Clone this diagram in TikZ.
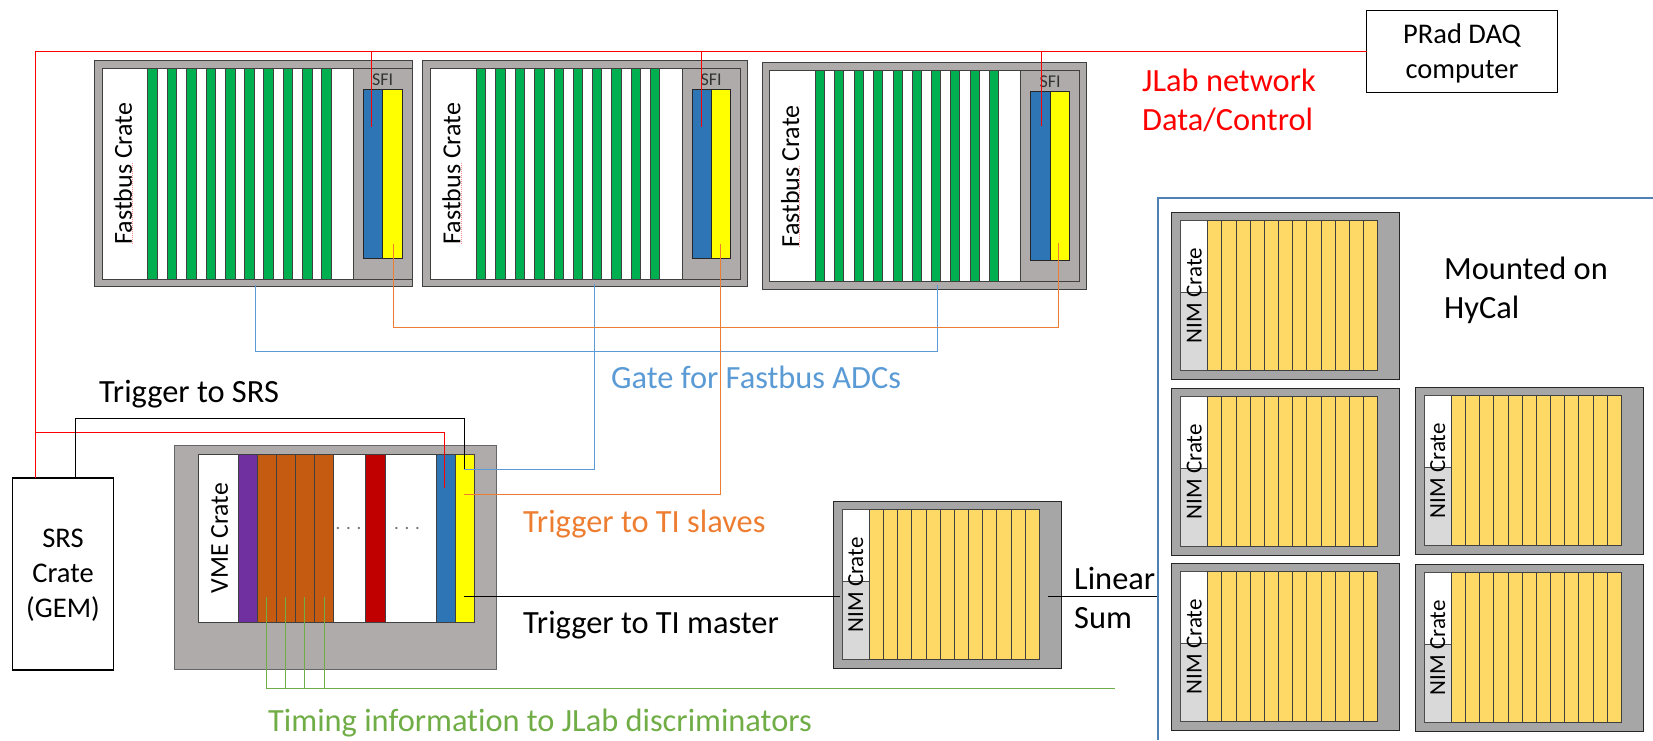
\documentclass[tikz,border=0pt]{standalone}
\usepackage{fontspec}
\setmainfont[Ligatures=NoCommon]{Carlito}
\usetikzlibrary {positioning}
\definecolor{crategray}{HTML}{AFABAB}
\definecolor{nimgray}{HTML}{A6A6A6}
\definecolor{nimlow}{HTML}{D9D9D9}
\definecolor{nimyellow}{HTML}{FFD966}
\definecolor{slotgreen}{HTML}{00B050}
\definecolor{modblue}{HTML}{2E75B6}
\definecolor{modyellow}{HTML}{FFFF00}
\definecolor{modorange}{HTML}{C55A11}
\definecolor{modpurple}{HTML}{7030A0}
\definecolor{modred}{HTML}{C00000}
\definecolor{gateblue}{HTML}{5B9BD5}
\definecolor{tiorange}{HTML}{ED7D31}
\definecolor{timegreen}{HTML}{70AD47}
\definecolor{framelink}{HTML}{4F81B5}
\definecolor{edgegray}{HTML}{404040}

\begin{document}
\begin{tikzpicture}[x=1pt,y=-1pt,on grid,
box/.style ={draw=edgegray,line width=1pt,inner sep=0,outer sep=0,minimum width=#1},
fbframe/.style ={box=#1,fill=crategray,minimum height=226.5pt},
fbinner/.style ={box=310pt,fill=white,minimum height=211pt},
fbslot/.style ={box=9.3pt,fill=slotgreen,minimum height=211pt},
sfipanel/.style ={box=58.5pt,fill=crategray,minimum height=211pt},
sfimod/.style ={box=19.3pt,draw=black!85,fill=#1,minimum height=169pt},
vmeslot/.style n args={2}{box=#1,on grid=false,fill=#2,minimum height=168pt},
nimframe/.style ={box=228pt,draw=black!85,fill=nimgray,minimum height=167pt},
nimslot/.style ={box=14.17pt,fill=nimyellow,minimum height=150pt},
plainbox/.style ={draw,line width=1.5pt,fill=white,inner sep=0,outer sep=0},
boxtext/.style ={inner sep=0,align=center,font=\fontsize{28.5}{35}\selectfont},
bigtext/.style ={inner sep=0,font=\fontsize{32.4}{39}\selectfont,align=left},
cratetext/.style ={inner sep=0,rotate=90,font=\fontsize{#1}{#1}\selectfont},
dottext/.style ={inner sep=0,text=black!55,font=\fontsize{19}{19}\selectfont},
spellmark/.style ={red!45,densely dotted,line width=1pt},
netline/.style ={red,line width=1pt},
gateline/.style ={gateblue,line width=1pt},
tiline/.style ={tiorange,line width=1pt},
timeline/.style ={timegreen,line width=1pt},
trigline/.style ={black,line width=1pt},
framelinkline/.style ={framelink,line width=1.6pt}]
\useasboundingbox (0,0) rectangle (1653,740);
% Fastbus crates
\foreach \fb/\fbw/\fbx/\fby/\inx/\iny in {fbA/318/253.5/173.3/257/173.7,fbB/324.6/585.2/173.3/585.5/173.7,fbC/324.3/924.6/176/924.3/176.3}{
\node[fbframe=\fbw pt] (\fb) at (\fbx,\fby) {};
\node[fbinner] (\fb-in) at (\inx,\iny) {};
\foreach \slot in {-104.5,-85,-65.5,-46,-26.5,-7.5,11.5,31,50.5,69.5}
\node[fbslot] (\fb-\slot) [right=\slot pt of \fb-in] {};
\node[sfipanel] (\fb-sfi) [right=125.75pt of \fb-in] {};
\node[sfimod=modblue] (\fb-blue) [left=9.6pt of \fb-sfi] {};
\node[sfimod=modyellow] (\fb-yel) [right=9.6pt of \fb-sfi] {};
\node[inner sep=0,font=\fontsize{18}{18}\selectfont,text=black!80] (\fb-name) [above=94.4pt of \fb-sfi] {SFI};
\node[cratetext=26] (\fb-label) [left=134pt of \fb-in] {Fastbus Crate};
\node[coordinate] (\fb-m1) [above left=10.7pt and 124.5pt of \fb-in] {};
\node[coordinate] (\fb-m2) [below left=71pt and 124.5pt of \fb-in] {};
\draw[spellmark] (\fb-m1) -- (\fb-m2);
}
% VME crate
\node[box=322pt,draw=black!60,fill=crategray,minimum height=224pt] (vme) at (335.3,557.2) {};
\node[vmeslot={40.4pt}{white}] (vmeName) at (218.4,538.3) {};
\node[vmeslot={18.9pt}{modpurple}] (vmeP) [right=0pt of vmeName] {};
\node[vmeslot={18.9pt}{modorange}] (vmeO1) [right=0pt of vmeP] {};
\node[vmeslot={18.9pt}{modorange}] (vmeO2) [right=0pt of vmeO1] {};
\node[vmeslot={18.9pt}{modorange}] (vmeO3) [right=0pt of vmeO2] {};
\node[vmeslot={18.9pt}{modorange}] (vmeO4) [right=0pt of vmeO3] {};
\node[vmeslot={32.8pt}{white}] (vmeE1) [right=0pt of vmeO4] {};
\node[vmeslot={19.4pt}{modred}] (vmeR) [right=0pt of vmeE1] {};
\node[vmeslot={51pt}{white}] (vmeE2) [right=0pt of vmeR] {};
\node[vmeslot={19.6pt}{modblue}] (vmeB) [right=0pt of vmeE2] {};
\node[vmeslot={19pt}{modyellow}] (vmeY) [right=0pt of vmeB] {};
\node[cratetext=25.7] (vmeLabel) [right=1.2pt of vmeName] {VME Crate};
\node[dottext] (dotsA) at (348.6,528.3) {. . .};
\node[dottext] (dotsB) at (407,528.3) {. . .};
% NIM crates
\foreach \nim/\nimx/\nimy in {nimMain/947/584.9,nimA/1285.4/295.6,nimB/1285.4/471.8,nimC/1285.4/646.8,nimD/1529/470.8,nimE/1529/647.7}{
\node[nimframe] (\nim) at (\nimx,\nimy) {};
\node[box=197pt,minimum height=150pt] (\nim-in) [left=6.2pt of \nim] {};
\node[box=27pt,draw=black!70,fill=white,minimum height=72pt] (\nim-up) [above left=39pt and 85pt of \nim-in] {};
\node[box=27pt,draw=black!70,fill=nimlow,minimum height=78pt] (\nim-low) [below left=36pt and 85pt of \nim-in] {};
\node[coordinate] (\nim-s0) [left=85.6pt of \nim-in] {};
\foreach \slot [remember=\slot as \prev (initially 0)] in {1,...,12}
\node[nimslot] (\nim-s\slot) [right=14.17pt of \nim-s\prev] {};
\node[cratetext=23] (\nim-label) [left=85pt of \nim-in] {NIM Crate};
}
% boxes
\node[plainbox,minimum width=191pt,minimum height=82pt] (prad) at (1462,51.5) {};
\node[boxtext] (pradText) [below=2pt of prad] {PRad DAQ\\computer};
\node[plainbox,minimum width=101pt,minimum height=192pt] (srs) at (63,573.8) {};
\node[boxtext] (srsName) [below=1.5pt of srs] {SRS\\Crate\\(GEM)};
% free ends
\coordinate (netSrs) at (35.7,477.7);
\coordinate (netVme) at (35.7,432.3);
\coordinate (netVmeEnd) at (444.6,488.3);
\coordinate (netA) at (371.4,126.7);
\coordinate (netB) at (701,127);
\coordinate (netC) at (1041.4,126);
\coordinate (gateA) at (255,285);
\coordinate (gateLow) at (255,351);
\coordinate (gateB) at (594,284);
\coordinate (gateC) at (937,285);
\coordinate (vmeGate) at (464,469.3);
\coordinate (srsGate) at (75.7,477.7);
\coordinate (srsTurn) at (75.7,418.3);
\coordinate (tiA) at (393,244.3);
\coordinate (tiLow) at (393,327);
\coordinate (tiB) at (720.4,244);
\coordinate (tiC) at (1058,243);
\coordinate (vmeTi) at (464.3,494.3);
\coordinate (vmeMaster) at (464,596.3);
\coordinate (nimInput) at (839.6,596.3);
\coordinate (sumOut) at (1047.5,596.7);
\coordinate (sumIn) at (1158,596.7);
\coordinate (timeA) at (266,597.3);
\coordinate (timeB) at (285,597.3);
\coordinate (timeC) at (304,597.3);
\coordinate (timeD) at (324,597.3);
\coordinate (timeEnd) at (1115.4,688.3);
\coordinate (frameLow) at (1158,740);
\coordinate (frameEnd) at (1653,198);
% connections
\draw[netline] (prad.west) -| (netSrs);
\draw[netline] (netA |- prad.west) -- (netA);
\draw[netline] (netB |- prad.west) -- (netB);
\draw[netline] (netC |- prad.west) -- (netC);
\draw[netline] (netVme) -| (netVmeEnd);
\draw[gateline] (gateA) -- (gateLow) -| (gateC);
\draw[gateline] (gateB) |- (vmeGate);
\draw[trigline] (srsGate) -- (srsTurn) -| (vmeGate);
\draw[tiline] (tiA) -- (tiLow) -| (tiC);
\draw[tiline] (tiB) |- (vmeTi);
\draw[trigline] (vmeMaster) -- (nimInput);
\draw[trigline] (sumOut) -- (sumIn);
\draw[timeline] (timeA) |- (timeEnd);
\draw[timeline] (timeB) -- (timeB |- timeEnd);
\draw[timeline] (timeC) -- (timeC |- timeEnd);
\draw[timeline] (timeD) -- (timeD |- timeEnd);
\draw[framelinkline] (frameLow) |- (frameEnd);
% labels
\node[bigtext,anchor=west,text=red] (netText) at (1142,100) {JLab network\\Data/Control};
\node[bigtext,anchor=west,text=gateblue] (gateText) at (611,377) {Gate for Fastbus ADCs};
\node[bigtext,anchor=west] (srsText) at (99,394) {Trigger to SRS};
\node[bigtext,anchor=west,text=tiorange] (tiText) at (523,524) {Trigger to TI slaves};
\node[bigtext,anchor=west] (masterText) at (523,625) {Trigger to TI master};
\node[bigtext,anchor=west,text=timegreen] (timeText) at (268,723) {Timing information to JLab discriminators};
\node[bigtext,anchor=west] (sumText) at (1074,598) {Linear\\Sum};
\node[bigtext,anchor=west] (hycalText) at (1444,290) {Mounted on\\HyCal};
\end{tikzpicture}
\end{document}
